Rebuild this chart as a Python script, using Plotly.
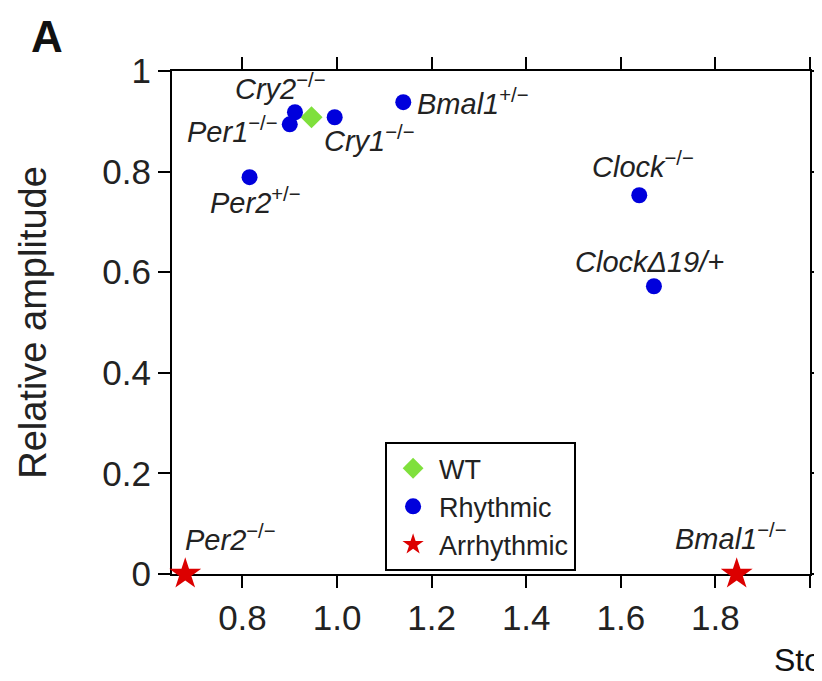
import plotly.graph_objects as go

# ---- data ----
genotypes = ["WT", "Cry2", "Per1", "Cry1", "Bmal1", "Per2", "Clock", "ClockD19", "Per2", "Bmal1"]
labels = ["", "<i>Cry2</i><sup>−/−</sup>", "<i>Per1</i><sup>−/−</sup>", "<i>Cry1</i><sup>−/−</sup>",
          "<i>Bmal1</i><sup>+/−</sup>", "<i>Per2</i><sup>+/−</sup>", "<i>Clock</i><sup>−/−</sup>",
          "<i>ClockΔ19/+</i>", "<i>Per2</i><sup>−/−</sup>", "<i>Bmal1</i><sup>−/−</sup>"]
stoichiometry = [0.946, 0.911, 0.900, 0.995, 1.140, 0.815, 1.639, 1.670, 0.679, 1.845]
amplitude = [0.908, 0.918, 0.894, 0.908, 0.938, 0.789, 0.753, 0.572, 0.0, 0.0]
group = ["WT", "Rhythmic", "Rhythmic", "Rhythmic", "Rhythmic", "Rhythmic", "Rhythmic", "Rhythmic",
         "Arrhythmic", "Arrhythmic"]

x_tickvals = [0.8, 1.0, 1.2, 1.4, 1.6, 1.8, 2.0]
x_ticktext = ["0.8", "1.0", "1.2", "1.4", "1.6", "1.8", ""]
y_tickvals = [0, 0.2, 0.4, 0.6, 0.8, 1.0]
y_ticktext = ["0", "0.2", "0.4", "0.6", "0.8", "1"]

# ---- styles (label placement in pixels relative to the point) ----
label_place = [None, ("center", -14, 25), ("right", -10, -6), ("left", -13, -22), ("left", 12, 0),
               ("center", 6, -24), ("center", 4, 30), ("center", -4, 24), ("left", -2, 36),
               ("center", -6, 37)]
styles = {
    "WT": dict(symbol="diamond", color="#7fe03c", size=17),
    "Rhythmic": dict(symbol="circle", color="#0000dc", size=16),
    "Arrhythmic": dict(symbol="star", color="#dc0000", size=24),
}

FONT = "Liberation Sans, Arial, Helvetica, sans-serif"

fig = go.Figure()
for g in ["WT", "Rhythmic", "Arrhythmic"]:
    xs = [x for x, gg in zip(stoichiometry, group) if gg == g]
    ys = [y for y, gg in zip(amplitude, group) if gg == g]
    st = styles[g]
    fig.add_trace(go.Scatter(
        x=xs, y=ys, mode="markers", name=g, cliponaxis=False,
        marker=dict(symbol=st["symbol"], color=st["color"], size=st["size"], line=dict(width=0)),
    ))

for x, y, lab, pl in zip(stoichiometry, amplitude, labels, label_place):
    if pl is None:
        continue
    anchor, dx, dy = pl
    fig.add_annotation(x=x, y=y, xref="x", yref="y", text=lab, showarrow=False,
                       xanchor=anchor, yanchor="middle", xshift=dx, yshift=dy,
                       font=dict(family=FONT, size=29, color="#222222"))

fig.add_annotation(text="<b>A</b>", xref="paper", yref="paper", x=-0.196, y=1.068,
                   showarrow=False, xanchor="center", yanchor="middle",
                   font=dict(family=FONT, size=44, color="#111111"))
fig.add_annotation(text="Stoichiometry", xref="paper", yref="paper", x=0.940, y=-0.171,
                   showarrow=False, xanchor="left", yanchor="middle",
                   font=dict(family=FONT, size=32, color="#111111"))

axis_common = dict(showline=True, linecolor="black", linewidth=2, mirror="ticks",
                   ticks="outside", ticklen=12, tickwidth=2, tickcolor="black",
                   showgrid=False, zeroline=False, automargin=False, layer="below traces",
                   tickfont=dict(family=FONT, size=35, color="#222222"))

fig.update_layout(
    width=814, height=673, template="none",
    margin=dict(l=164, r=12, t=63, b=107),
    paper_bgcolor="white", plot_bgcolor="white",
    showlegend=True,
    legend=dict(x=0.334, y=0.262, xanchor="left", yanchor="top",
                bordercolor="black", borderwidth=2, bgcolor="white",
                font=dict(family=FONT, size=27, color="#222222"),
                tracegroupgap=0, itemsizing="trace", itemwidth=42),
    xaxis=dict(range=[0.651, 2.0], tickvals=x_tickvals, ticktext=x_ticktext, **axis_common),
    yaxis=dict(range=[0, 1], tickvals=y_tickvals, ticktext=y_ticktext,
               title=dict(text="Relative amplitude", standoff=44,
                          font=dict(family=FONT, size=38, color="#222222")),
               **axis_common),
)

fig.write_html("out.html")
